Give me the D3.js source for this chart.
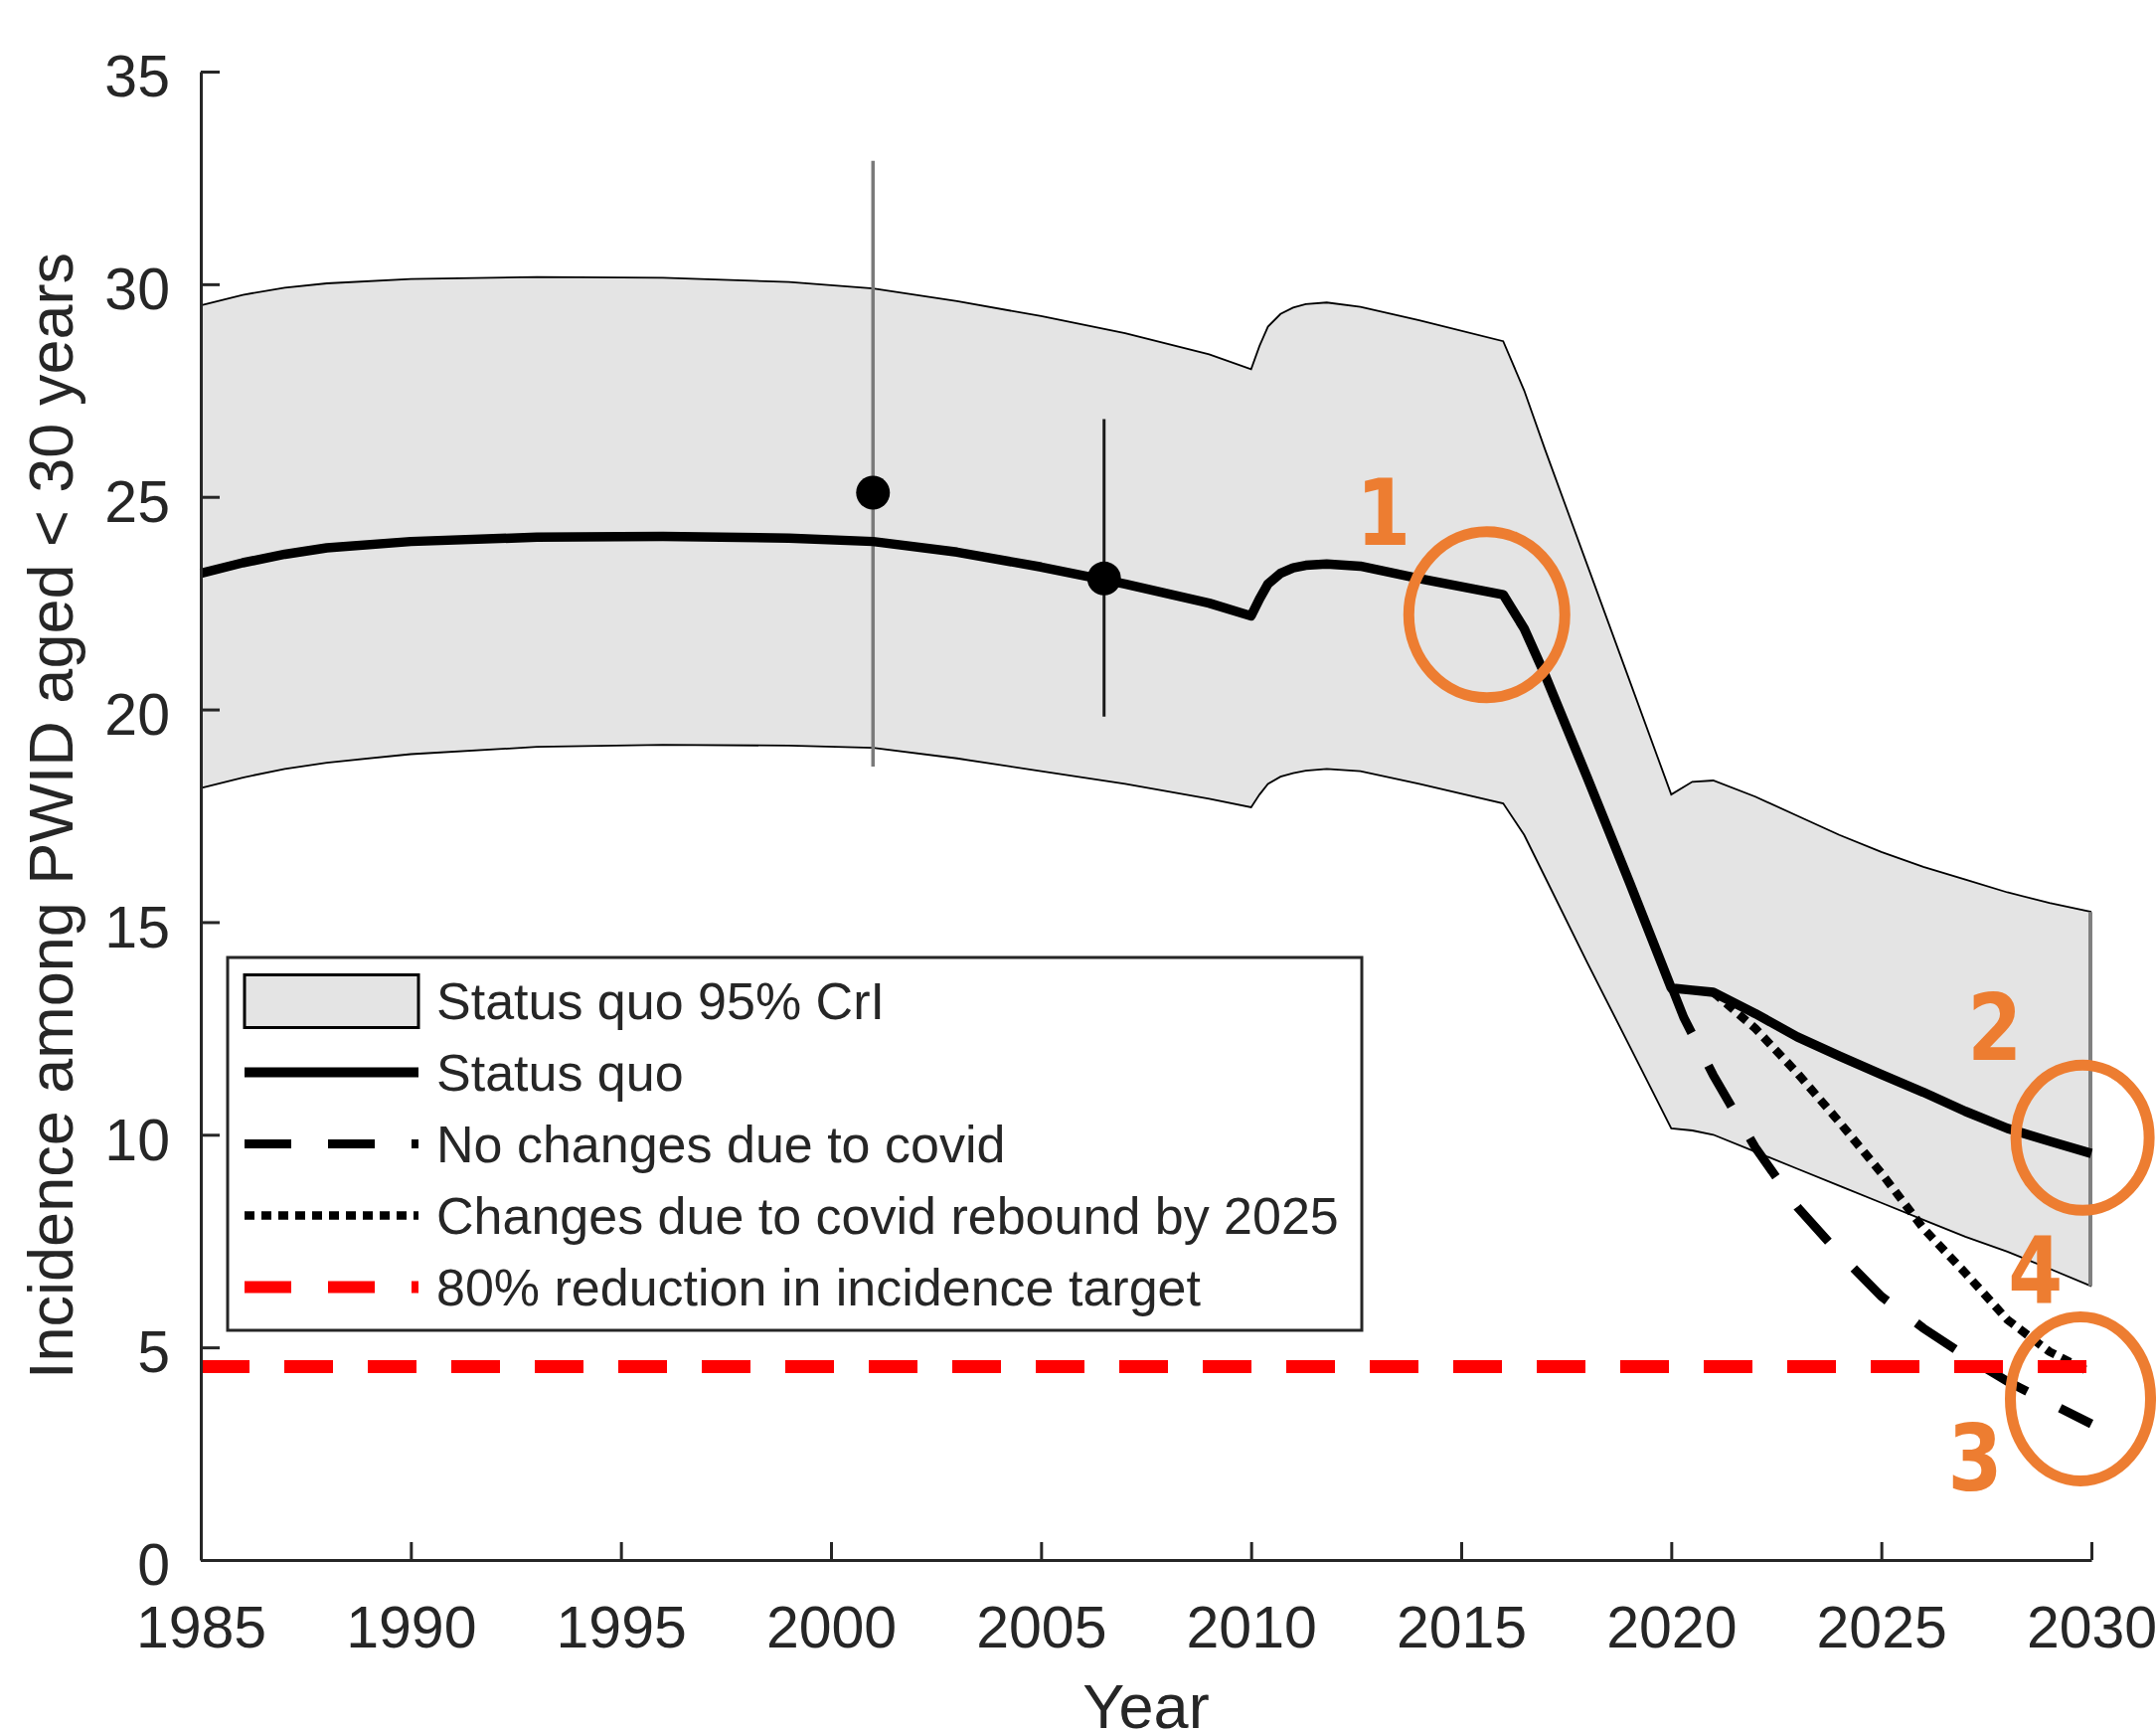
<!DOCTYPE html>
<html>
<head>
<meta charset="utf-8">
<script src="https://cdn.jsdelivr.net/npm/d3@7"></script>
<style>
  body { margin: 0; background: #fff; }
  svg text { font-family: "Liberation Sans", Arial, sans-serif; fill: #262626; }
</style>
</head>
<body>
<script>

// SVG dimensions
const width = 2169, height = 1742;
const margin = {top: 72, right: 65, bottom: 173, left: 202};
const innerWidth = width - margin.left - margin.right;
const innerHeight = height - margin.top - margin.bottom;

// Model years shared by the status quo line and its 95% CrI band
const years = [1985, 1986, 1987, 1988, 1990, 1993, 1996, 1999, 2001, 2003, 2005, 2007, 2009, 2010,
  2010.2, 2010.4, 2010.7, 2011, 2011.3, 2011.8, 2012.6, 2014, 2016, 2016.5, 2017, 2018, 2019, 2020, 2020.5, 2021,
  2022, 2023, 2024, 2025, 2026, 2027, 2028, 2029, 2030];
const statusQuo = [23.2, 23.45, 23.65, 23.8, 23.95, 24.05, 24.07, 24.03, 23.95, 23.7, 23.35, 22.95, 22.5, 22.2,
  22.6, 22.95, 23.2, 23.33, 23.39, 23.42, 23.37, 23.08, 22.7, 21.9, 20.8, 18.4, 15.95, 13.45, 13.4, 13.35,
  12.85, 12.3, 11.85, 11.42, 11.0, 10.55, 10.15, 9.85, 9.56];
const bandLower = [18.15, 18.4, 18.6, 18.75, 18.95, 19.12, 19.17, 19.15, 19.1, 18.85, 18.55, 18.25, 17.9, 17.7,
  18.0, 18.25, 18.42, 18.5, 18.56, 18.6, 18.55, 18.25, 17.79, 17.05, 16.05, 14.05, 12.1, 10.15, 10.1, 10.0,
  9.6, 9.2, 8.8, 8.4, 8.0, 7.6, 7.25, 6.85, 6.44];
const bandUpper = [29.5, 29.75, 29.92, 30.02, 30.12, 30.17, 30.15, 30.05, 29.9, 29.6, 29.25, 28.85, 28.35, 28.0,
  28.55, 29.0, 29.3, 29.45, 29.53, 29.57, 29.47, 29.15, 28.66, 27.5, 26.1, 23.4, 20.7, 18.0, 18.3, 18.33,
  17.95, 17.5, 17.05, 16.65, 16.3, 16.0, 15.7, 15.45, 15.24];

// Scenario: no changes due to covid
const noChangeYears = [2020.04, 2020.3, 2021, 2022, 2023, 2024, 2025, 2026, 2027, 2028, 2029, 2030];
const noChange = [13.4, 12.75, 11.4, 9.7, 8.3, 7.2, 6.2, 5.45, 4.8, 4.2, 3.7, 3.2];

// Scenario: changes due to covid, rebound by 2025
const reboundYears = [2021, 2022, 2023, 2024, 2025, 2026, 2027, 2028, 2029, 2030];
const rebound = [13.35, 12.5, 11.45, 10.3, 9.1, 7.8, 6.75, 5.65, 4.9, 4.4];

// 80% reduction in incidence target
const target = 4.55;

// Observed data points with error bars
const obsYears = [2001, 2006.5];
const obsValues = [25.1, 23.08];
const obsLow = [18.66, 19.83];
const obsHigh = [32.9, 26.83];

// Axis ticks
const xTicks = [1985, 1990, 1995, 2000, 2005, 2010, 2015, 2020, 2025, 2030];
const yTicks = [0, 5, 10, 15, 20, 25, 30, 35];

// Legend labels
const legendLabels = ["Status quo 95% CrI", "Status quo", "No changes due to covid",
  "Changes due to covid rebound by 2025", "80% reduction in incidence target"];

// Orange annotations: circles and numbers (in data coordinates)
const noteCircles = [{year: 2015.61, value: 22.23}, {year: 2029.79, value: 9.93}, {year: 2029.74, value: 3.79}];
const noteLabels = [
  {text: "1", year: 2013.15, value: 23.87},
  {text: "2", year: 2027.70, value: 11.76},
  {text: "4", year: 2028.67, value: 6.06},
  {text: "3", year: 2027.23, value: 1.64}
];

const orange = "#ED7D31";
const axisColour = "#262626";

// Create SVG
const svg = d3.select("body")
  .append("svg")
  .attr("width", width)
  .attr("height", height);

const g = svg.append("g")
  .attr("transform", `translate(${margin.left},${margin.top})`);

// Scales
const x = d3.scaleLinear().domain([1985, 2030]).range([0, innerWidth]);
const y = d3.scaleLinear().domain([0, 35]).range([innerHeight, 0]);

const bandData = years.map((yr, i) => ({x: yr, lo: bandLower[i], hi: bandUpper[i], v: statusQuo[i]}));

// Band fill
g.append("path")
  .datum(bandData)
  .attr("fill", "#e4e4e4")
  .attr("d", d3.area().x(d => x(d.x)).y0(d => y(d.lo)).y1(d => y(d.hi)));

// Band edges
const edge = (key) => d3.line().x(d => x(d.x)).y(d => y(d[key]));
g.append("path").datum(bandData)
  .attr("fill", "none").attr("stroke", "#000").attr("stroke-width", 1.8)
  .attr("d", edge("hi"));
g.append("path").datum(bandData)
  .attr("fill", "none").attr("stroke", "#000").attr("stroke-width", 1.8)
  .attr("d", edge("lo"));

// Right edge of band at 2030
const last = bandData[bandData.length - 1];
g.append("line")
  .attr("x1", x(last.x) - 1).attr("x2", x(last.x) - 1)
  .attr("y1", y(last.hi)).attr("y2", y(last.lo))
  .attr("stroke", "#808080").attr("stroke-width", 4);

// Error bars and observed points
obsYears.forEach((yr, i) => {
  g.append("line")
    .attr("x1", x(yr)).attr("x2", x(yr))
    .attr("y1", y(obsHigh[i])).attr("y2", y(obsLow[i]))
    .attr("stroke", i === 0 ? "#7a7a7a" : "#1a1a1a")
    .attr("stroke-width", i === 0 ? 3.5 : 3);
});
g.selectAll("circle.obs")
  .data(obsYears)
  .enter().append("circle")
  .attr("class", "obs")
  .attr("cx", d => x(d))
  .attr("cy", (d, i) => y(obsValues[i]))
  .attr("r", 17)
  .attr("fill", "#000");

// Status quo line
g.append("path")
  .datum(bandData)
  .attr("fill", "none").attr("stroke", "#000").attr("stroke-width", 9.5)
  .attr("stroke-linejoin", "round")
  .attr("d", edge("v"));

// No changes due to covid (dashed)
g.append("path")
  .datum(noChangeYears.map((yr, i) => ({x: yr, v: noChange[i]})))
  .attr("fill", "none").attr("stroke", "#000").attr("stroke-width", 9)
  .attr("stroke-dasharray", "47,37")
  .attr("d", edge("v"));

// Rebound by 2025 (dotted)
g.append("path")
  .datum(reboundYears.map((yr, i) => ({x: yr, v: rebound[i]})))
  .attr("fill", "none").attr("stroke", "#000").attr("stroke-width", 8.5)
  .attr("stroke-dasharray", "10,7")
  .attr("d", edge("v"));

// Target line
g.append("line")
  .attr("x1", x(1985)).attr("x2", x(2030))
  .attr("y1", y(target)).attr("y2", y(target))
  .attr("stroke", "#ff0000").attr("stroke-width", 13)
  .attr("stroke-dasharray", "49,35");

// Axes
const xAxis = g.append("g")
  .attr("transform", `translate(0,${innerHeight})`)
  .call(d3.axisBottom(x).tickValues(xTicks).tickFormat(d3.format("d"))
    .tickSizeInner(-18).tickSizeOuter(0).tickPadding(46));
const yAxis = g.append("g")
  .call(d3.axisLeft(y).tickValues(yTicks)
    .tickSizeInner(-19).tickSizeOuter(0).tickPadding(31));

[xAxis, yAxis].forEach(ax => {
  ax.select(".domain").attr("stroke", axisColour).attr("stroke-width", 3);
  ax.selectAll(".tick line").attr("stroke", axisColour).attr("stroke-width", 3);
  ax.selectAll(".tick text")
    .attr("fill", axisColour)
    .style("font-size", "59px")
    .style("font-family", "'Liberation Sans', Arial, sans-serif");
});
yAxis.selectAll(".tick text").attr("dy", "0.42em");

// Axis titles
svg.append("text")
  .attr("x", margin.left + innerWidth / 2)
  .attr("y", 1738)
  .attr("text-anchor", "middle")
  .style("font-size", "63px")
  .text("Year");

svg.append("text")
  .attr("transform", `translate(73,${margin.top + innerHeight / 2}) rotate(-90)`)
  .attr("text-anchor", "middle")
  .style("font-size", "63px")
  .text("Incidence among PWID aged < 30 years");

// Legend
const legend = svg.append("g");
legend.append("rect")
  .attr("x", 229).attr("y", 963).attr("width", 1141).attr("height", 375)
  .attr("fill", "#fff").attr("stroke", axisColour).attr("stroke-width", 3);

const rowH = 72, rowY0 = 1006.5, sampleX0 = 246, sampleX1 = 421;
const sampleStyles = [null,
  {stroke: "#000", w: 10, dash: null},
  {stroke: "#000", w: 9, dash: "47,37"},
  {stroke: "#000", w: 8.5, dash: "10,7"},
  {stroke: "#ff0000", w: 12, dash: "47,37"}];
legendLabels.forEach((label, i) => {
  const cy = rowY0 + i * rowH;
  if (i === 0) {
    legend.append("rect")
      .attr("x", sampleX0).attr("y", cy - 26).attr("width", sampleX1 - sampleX0).attr("height", 53)
      .attr("fill", "#e4e4e4").attr("stroke", "#000").attr("stroke-width", 3);
  } else {
    const s = sampleStyles[i];
    legend.append("line")
      .attr("x1", sampleX0).attr("x2", sampleX1)
      .attr("y1", cy).attr("y2", cy)
      .attr("stroke", s.stroke).attr("stroke-width", s.w)
      .attr("stroke-dasharray", s.dash);
  }
  legend.append("text")
    .attr("x", 439).attr("y", cy + 18.5)
    .style("font-size", "52px")
    .attr("fill", "#111")
    .text(label);
});

// Orange annotations
g.selectAll("ellipse.note")
  .data(noteCircles)
  .enter().append("ellipse")
  .attr("class", "note")
  .attr("cx", d => x(d.year))
  .attr("cy", d => y(d.value))
  .attr("rx", (d, i) => [78.5, 67, 70.5][i])
  .attr("ry", (d, i) => [83.5, 73, 82.5][i])
  .attr("fill", "none")
  .attr("stroke", orange)
  .attr("stroke-width", 11);

g.selectAll("text.note")
  .data(noteLabels)
  .enter().append("text")
  .attr("class", "note")
  .attr("transform", d => `translate(${x(d.year)},${y(d.value)}) scale(0.85,1)`)
  .attr("text-anchor", "middle")
  .style("font-family", "'DejaVu Sans', sans-serif")
  .style("font-weight", "bold")
  .style("font-size", "93px")
  .style("fill", orange)
  .text(d => d.text);

</script>
</body>
</html>
